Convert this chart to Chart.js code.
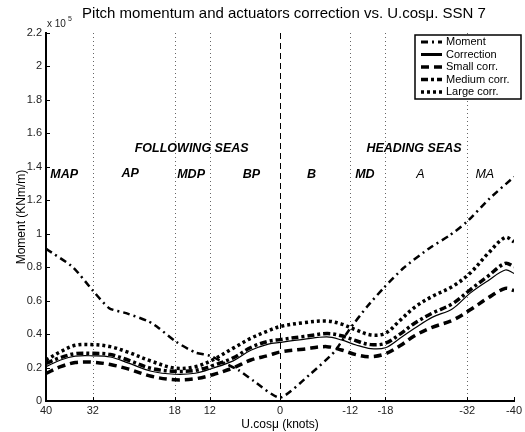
<!DOCTYPE html>
<html>
<head>
<meta charset="utf-8">
<script src="https://cdn.jsdelivr.net/npm/chart.js@4/dist/chart.umd.min.js"></script>
<style>
  html, body { margin: 0; padding: 0; background: #fff; }
  #wrap { width: 525px; height: 432px; }
</style>
</head>
<body>
<div id="wrap"><canvas id="pitch-chart" width="525" height="432"></canvas></div>
<script>
// ─── Data (moment values in units of 10^5 KNm/m) ─────────────
const xTicks = [40, 32, 18, 12, 0, -12, -18, -32, -40];
const gridX  = [32, 18, 12, -12, -18, -32];

const momentX = [40, 35.4, 32, 29.2, 26.3, 22.4, 20.7, 17.8, 14.5, 11.9, 9.4, 7.1, 4.5, 0,
                 -5.3, -9.3, -11.8, -14.9, -17.7, -21.1, -25.6, -29, -31.9, -35.8, -40];
const momentY = [0.91, 0.80, 0.66, 0.555, 0.525, 0.475, 0.435, 0.355, 0.29, 0.27, 0.225, 0.185, 0.12, 0.02,
                 0.165, 0.295, 0.425, 0.565, 0.675, 0.795, 0.915, 0.99, 1.07, 1.21, 1.34];

const corrX = [40, 37.5, 35, 32, 29, 26, 22, 18, 14.5, 11.5, 8, 5, 2, 0,
               -4, -8, -10.5, -13, -15.5, -18, -20.5, -23, -26, -29.5, -32.5, -35.5, -38.5, -40];
const correctionY = [0.205, 0.245, 0.268, 0.27, 0.263, 0.228, 0.178, 0.16, 0.166, 0.196, 0.24, 0.303, 0.34, 0.35,
                     0.368, 0.383, 0.365, 0.335, 0.313, 0.318, 0.375, 0.435, 0.5, 0.552, 0.645, 0.718, 0.783, 0.763];
const smallY  = [0.165, 0.205, 0.23, 0.232, 0.218, 0.192, 0.148, 0.127, 0.133, 0.157, 0.198, 0.245, 0.272, 0.293,
                 0.31, 0.325, 0.305, 0.277, 0.265, 0.282, 0.33, 0.39, 0.44, 0.483, 0.545, 0.615, 0.673, 0.66];
const mediumY = [0.225, 0.26, 0.283, 0.285, 0.278, 0.245, 0.195, 0.178, 0.183, 0.212, 0.258, 0.32, 0.357, 0.367,
                 0.385, 0.403, 0.39, 0.36, 0.337, 0.345, 0.4, 0.465, 0.525, 0.582, 0.665, 0.745, 0.823, 0.803];
const largeY  = [0.245, 0.295, 0.333, 0.337, 0.325, 0.292, 0.238, 0.197, 0.205, 0.246, 0.316, 0.375, 0.42, 0.445,
                 0.468, 0.478, 0.46, 0.425, 0.395, 0.405, 0.482, 0.56, 0.625, 0.685, 0.765, 0.88, 0.978, 0.952];

// region labels (placed in data coordinates)
const regionLabels = [
  { text: 'FOLLOWING SEAS', x: 15.1,  y: 1.51, bold: true },
  { text: 'HEADING SEAS',   x: -22.9, y: 1.51, bold: true },
  { text: 'MAP', x: 36.9,  y: 1.355, bold: true },
  { text: 'AP',  x: 25.6,  y: 1.36,  bold: true },
  { text: 'MDP', x: 15.2,  y: 1.355, bold: true },
  { text: 'BP',  x: 4.9,   y: 1.355, bold: true },
  { text: 'B',   x: -5.4,  y: 1.355, bold: true },
  { text: 'MD',  x: -14.5, y: 1.355, bold: true },
  { text: 'A',   x: -24,   y: 1.355, bold: false },
  { text: 'MA',  x: -35,   y: 1.355, bold: false },
];

const FONT = '"Liberation Sans", Arial, sans-serif';

function pts(xs, ys) {
  return xs.map((x, i) => ({ x, y: ys[i] }));
}

// ─── Decorations: grid, inward ticks, labels, legend ─────────
const matlabDecor = {
  id: 'matlabDecor',
  beforeDatasetsDraw(chart) {
    const { ctx, chartArea: a, scales: { x } } = chart;
    ctx.save();
    ctx.strokeStyle = '#666';
    ctx.lineWidth = 1;
    ctx.setLineDash([1, 3]);
    gridX.forEach(v => {
      const px = Math.round(x.getPixelForValue(v)) + 0.5;
      ctx.beginPath(); ctx.moveTo(px, a.top); ctx.lineTo(px, a.bottom); ctx.stroke();
    });
    ctx.strokeStyle = '#000';
    ctx.setLineDash([6, 4]);
    const p0 = Math.round(x.getPixelForValue(0)) + 0.5;
    ctx.beginPath(); ctx.moveTo(p0, a.top); ctx.lineTo(p0, a.bottom); ctx.stroke();
    ctx.restore();
  },
  afterDraw(chart) {
    const { ctx, chartArea: a, scales: { x, y } } = chart;
    ctx.save();

    // inward tick marks
    ctx.strokeStyle = '#000';
    ctx.lineWidth = 1;
    x.ticks.forEach(t => {
      const px = Math.round(x.getPixelForValue(t.value)) + 0.5;
      ctx.beginPath(); ctx.moveTo(px, a.bottom); ctx.lineTo(px, a.bottom - 4); ctx.stroke();
    });
    y.ticks.forEach(t => {
      const py = Math.round(y.getPixelForValue(t.value)) + 0.5;
      ctx.beginPath(); ctx.moveTo(a.left, py); ctx.lineTo(a.left + 4, py); ctx.stroke();
    });

    // title
    ctx.fillStyle = '#000';
    ctx.textAlign = 'center';
    ctx.textBaseline = 'middle';
    ctx.font = `15px ${FONT}`;
    ctx.fillText('Pitch momentum and actuators correction vs. U.cosμ. SSN 7', 284, 14);

    // exponent
    ctx.textAlign = 'left';
    ctx.font = `10px ${FONT}`;
    ctx.fillStyle = '#222';
    ctx.fillText('x 10', 47, 24);
    ctx.font = `7px ${FONT}`;
    ctx.fillText('5', 68, 19);

    // region labels
    ctx.fillStyle = '#000';
    ctx.textAlign = 'center';
    regionLabels.forEach(l => {
      ctx.font = `italic ${l.bold ? 'bold ' : ''}12.5px ${FONT}`;
      ctx.fillText(l.text, x.getPixelForValue(l.x), y.getPixelForValue(l.y));
    });

    // legend
    const lx = 415, ly = 35, lw = 106, lh = 64;
    ctx.fillStyle = '#fff';
    ctx.fillRect(lx, ly, lw, lh);
    ctx.strokeStyle = '#000';
    ctx.lineWidth = 1.5;
    ctx.setLineDash([]);
    ctx.strokeRect(lx, ly, lw, lh);
    chart.data.datasets.forEach((ds, i) => {
      const yy = ly + 7 + i * 12.5;
      ctx.save();
      ctx.strokeStyle = '#000';
      ctx.lineWidth = Math.max(ds.borderWidth, 3);
      ctx.setLineDash(ds.borderDash || []);
      ctx.beginPath(); ctx.moveTo(lx + 6, yy); ctx.lineTo(lx + 27, yy); ctx.stroke();
      ctx.restore();
      ctx.fillStyle = '#000';
      ctx.textAlign = 'left';
      ctx.font = `11px ${FONT}`;
      ctx.fillText(ds.label, lx + 31, yy);
    });

    ctx.restore();
  },
};

const ctx = document.getElementById('pitch-chart').getContext('2d');
new Chart(ctx, {
  type: 'line',
  data: {
    datasets: [
      { label: 'Moment',       data: pts(momentX, momentY),   borderWidth: 2.5, borderDash: [7, 4, 2, 4], tension: 0.2 },
      { label: 'Correction',   data: pts(corrX, correctionY), borderWidth: 1.2, borderDash: [],           tension: 0.35 },
      { label: 'Small corr.',  data: pts(corrX, smallY),      borderWidth: 3.5, borderDash: [8, 5],       tension: 0.35 },
      { label: 'Medium corr.', data: pts(corrX, mediumY),     borderWidth: 3.5, borderDash: [7, 3, 3, 3], tension: 0.35 },
      { label: 'Large corr.',  data: pts(corrX, largeY),      borderWidth: 3.5, borderDash: [3, 3],       tension: 0.35 },
    ].map(d => ({ ...d, borderColor: '#000', backgroundColor: '#000', pointRadius: 0, fill: false })),
  },
  options: {
    responsive: false,
    animation: false,
    devicePixelRatio: 1,
    layout: { padding: { top: 33, right: 8, left: 0, bottom: 0 } },
    plugins: { legend: { display: false }, tooltip: { enabled: false } },
    scales: {
      x: {
        type: 'linear',
        reverse: true,
        min: -40,
        max: 40,
        afterBuildTicks: s => { s.ticks = xTicks.map(v => ({ value: v })); },
        afterFit: s => { s.height = 31; },
        grid: { display: false, drawTicks: false },
        border: { display: true, color: '#000', width: 2 },
        ticks: { autoSkip: false, maxRotation: 0, padding: 3, color: '#222', font: { family: FONT, size: 11 } },
        title: { display: true, text: 'U.cosμ (knots)', color: '#000', padding: { top: 0, bottom: 0 },
                 font: { family: FONT, size: 12 } },
      },
      y: {
        min: 0,
        max: 2.2,
        afterFit: s => { s.width = 46; },
        grid: { display: false, drawTicks: false },
        border: { display: true, color: '#000', width: 2 },
        ticks: { stepSize: 0.2, padding: 4, color: '#222', font: { family: FONT, size: 11 },
                 callback: v => String(Number(v.toFixed(1))) },
        title: { display: true, text: 'Moment (KNm/m)', color: '#000', padding: { top: 14, bottom: 0 },
                 font: { family: FONT, size: 12 } },
      },
    },
  },
  plugins: [matlabDecor],
});
</script>
</body>
</html>
